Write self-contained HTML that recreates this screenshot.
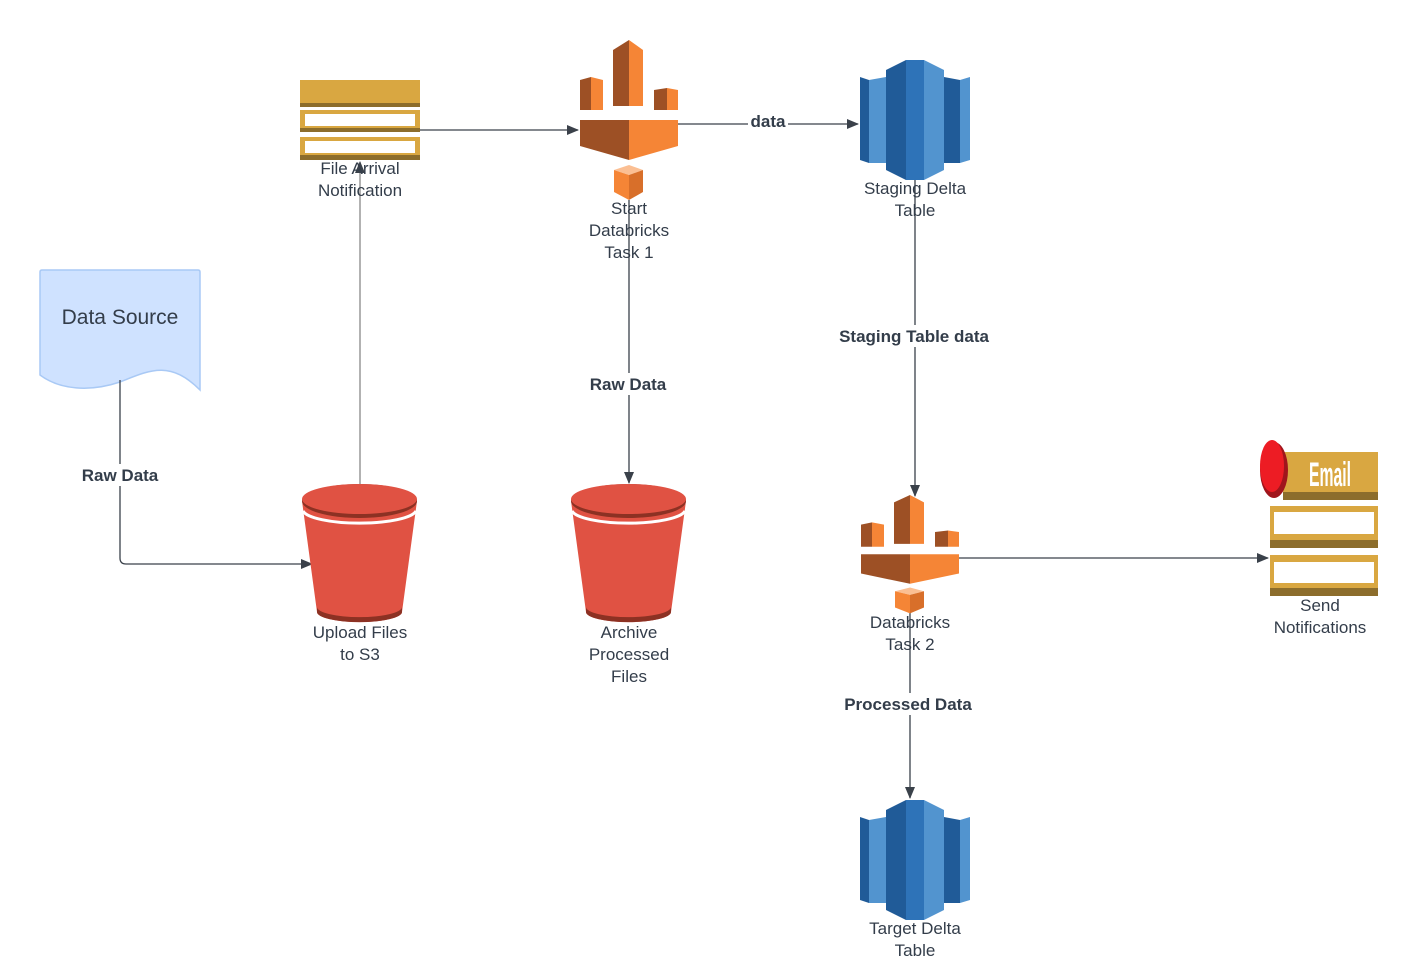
<!DOCTYPE html>
<html><head><style>body{margin:0;background:#fff}svg{display:block}</style></head><body>
<svg width="1419" height="980" viewBox="0 0 1419 980" font-family="Liberation Sans, sans-serif">
<defs>
<marker id="ar" markerWidth="12" markerHeight="10" refX="11" refY="5" orient="auto" markerUnits="userSpaceOnUse"><path d="M0,0 L12,5 L0,10 z" fill="#3a414a"/></marker>
<g id="rs">
<polygon points="0,17 9,20 9,103 0,100" fill="#205b98"/>
<polygon points="9,20 26,17 26,103 9,103" fill="#5294cf"/>
<polygon points="26,10 46,0 46,120 26,110" fill="#205b98"/>
<polygon points="46,0 64,0 64,120 46,120" fill="#2e73b8"/>
<polygon points="64,0 84,10 84,110 64,120" fill="#5294cf"/>
<polygon points="84,17 100,20 100,103 84,103" fill="#205b98"/>
<polygon points="100,20 110,17 110,100 100,103" fill="#5294cf"/>
</g>
<g id="gl">
<polygon points="0,40 11,37 11,70 0,70" fill="#9d5025"/><polygon points="11,37 23,40 23,70 11,70" fill="#f58536"/>
<polygon points="33,10 49,0 49,66 33,66" fill="#9d5025"/><polygon points="49,0 63,10 63,66 49,66" fill="#f58536"/>
<polygon points="74,50 87,48 87,70 74,70" fill="#9d5025"/><polygon points="87,48 98,50 98,70 87,70" fill="#f58536"/>
<polygon points="0,80 49,80 49,120 0,106" fill="#9d5025"/><polygon points="49,80 98,80 98,106 49,120" fill="#f58536"/>
<polygon points="34,130 49,125 63,130 49,135" fill="#fbbf93"/>
<polygon points="34,130 49,135 49,160 34,152" fill="#f58536"/><polygon points="49,135 63,130 63,152 49,160" fill="#d86f2a"/>
</g>
<g id="bk">
<path d="M0,17 L15,128 A42,10 0 0 0 100,128 L115,17 Z" fill="#e05243"/>
<path d="M15,128 A42,10 0 0 0 100,128 L100,123 A42,10 0 0 1 15,123 Z" fill="#8c3123"/>
<ellipse cx="57.5" cy="17" rx="57.5" ry="17" fill="#8c3123"/>
<ellipse cx="57.5" cy="15" rx="57.5" ry="15" fill="#e05243"/>
<path d="M1,27 A57,14 0 0 0 114,27" fill="none" stroke="#fff" stroke-width="3"/>
</g>
</defs>
<path d="M40,272 Q40,270 42,270 L198,270 Q200,270 200,272 L200,390 C170,360 150,370 120,382 C90,392 60,390 40,375 Z" fill="#cfe2ff" stroke="#a9c9f5" stroke-width="1.5"/>
<text x="120" y="324" font-size="21" fill="#333d4a" text-anchor="middle">Data Source</text>
<g stroke="#3a414a" stroke-width="1.3" fill="none">
<path d="M120,380 V558 Q120,564 126,564 H312" marker-end="url(#ar)"/>
<path d="M420,130 H578" marker-end="url(#ar)"/>
<path d="M678,124 H858" marker-end="url(#ar)"/>
<path d="M629,200 V483" marker-end="url(#ar)"/>
<path d="M915,180 V496" marker-end="url(#ar)"/>
<path d="M959,558 H1268" marker-end="url(#ar)"/>
<path d="M910,612 V798" marker-end="url(#ar)"/>
</g>
<path d="M360,484 V162" stroke="#888" stroke-width="1.3" marker-end="url(#ar)"/>
<g transform="translate(300,80)">
<rect x="0" y="0" width="120" height="23" fill="#d9a741"/><rect x="0" y="23" width="120" height="4" fill="#8c6d2c"/>
<rect x="0" y="30" width="120" height="21" fill="#d9a741"/><rect x="5" y="34" width="110" height="12" fill="#fff"/><rect x="0" y="48" width="120" height="4" fill="#8c6d2c"/>
<rect x="0" y="57" width="120" height="21" fill="#d9a741"/><rect x="5" y="61" width="110" height="12" fill="#fff"/><rect x="0" y="75" width="120" height="5" fill="#8c6d2c"/>
</g>
<use href="#gl" transform="translate(580,40)"/>
<use href="#gl" transform="translate(861,495) scale(1,0.74)"/>
<use href="#rs" transform="translate(860,60)"/>
<use href="#rs" transform="translate(860,800)"/>
<use href="#bk" transform="translate(302,484)"/>
<use href="#bk" transform="translate(571,484)"/>
<g transform="translate(1270,452)">
<rect x="13" y="0" width="95" height="40" fill="#d9a741"/><rect x="13" y="40" width="95" height="8" fill="#8c6d2c"/>
<text x="39" y="34" font-size="34" fill="#fff" font-weight="bold" textLength="42" lengthAdjust="spacingAndGlyphs">Email</text>
<rect x="0" y="54" width="108" height="42" fill="#d9a741"/><rect x="4" y="60" width="100" height="22" fill="#fff"/><rect x="0" y="88" width="108" height="8" fill="#8c6d2c"/>
<rect x="0" y="103" width="108" height="41" fill="#d9a741"/><rect x="4" y="110" width="100" height="21" fill="#fff"/><rect x="0" y="136" width="108" height="8" fill="#8c6d2c"/>
<ellipse cx="4" cy="18" rx="14" ry="28" fill="#a0151c"/>
<ellipse cx="2" cy="14" rx="12" ry="26" fill="#ed1c24"/>
</g>
<g font-size="17" fill="#333d4a" text-anchor="middle">
<text x="360" y="174">File Arrival</text><text x="360" y="196">Notification</text>
<text x="629" y="214">Start</text><text x="629" y="236">Databricks</text><text x="629" y="258">Task 1</text>
<text x="915" y="194">Staging Delta</text><text x="915" y="216">Table</text>
<text x="360" y="638">Upload Files</text><text x="360" y="660">to S3</text>
<text x="629" y="638">Archive</text><text x="629" y="660">Processed</text><text x="629" y="682">Files</text>
<text x="910" y="628">Databricks</text><text x="910" y="650">Task 2</text>
<text x="1320" y="611">Send</text><text x="1320" y="633">Notifications</text>
<text x="915" y="934">Target Delta</text><text x="915" y="956">Table</text>
</g>
<g font-size="17" font-weight="bold" fill="#333d4a" text-anchor="middle">
<rect x="78" y="464" width="84" height="22" fill="#fff"/><text x="120" y="481">Raw Data</text>
<rect x="748" y="112" width="40" height="20" fill="#fff"/><text x="768" y="127">data</text>
<rect x="586" y="373" width="84" height="22" fill="#fff"/><text x="628" y="390">Raw Data</text>
<rect x="834" y="325" width="160" height="22" fill="#fff"/><text x="914" y="342">Staging Table data</text>
<rect x="840" y="693" width="136" height="22" fill="#fff"/><text x="908" y="710">Processed Data</text>
</g>
</svg>
</body></html>
